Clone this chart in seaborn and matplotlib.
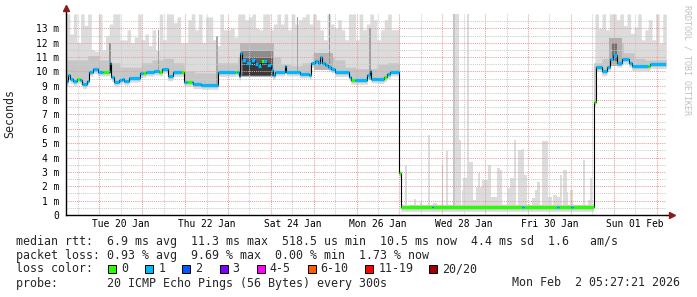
import numpy as np
import matplotlib
matplotlib.use("Agg")
import matplotlib.pyplot as plt
import seaborn as sns
from matplotlib.patches import Rectangle

# ---------------- data (time in days since Mon 19 Jan 00:00) ----------------
T0 = 0.2274   # Mon 19 Jan 05:27:21
T1 = 14.2274  # Mon 02 Feb 05:27:21

# median rtt (ms): step start, value, loss category index
med_start = [0.2274, 0.27, 0.32, 0.39, 0.47, 0.55, 0.60, 0.70, 0.75, 0.85,
             0.96, 1.08, 1.22, 1.24, 1.28, 1.34, 1.45, 1.53, 1.57, 1.69,
             1.95, 2.01, 2.08, 2.27, 2.39, 2.47, 2.59, 2.71, 2.90, 2.97,
             3.05, 3.15, 3.18, 3.38, 3.77, 4.17, 4.22, 4.26, 4.29, 4.33,
             4.42, 4.54, 4.62, 4.69, 4.77, 4.85, 4.92, 5.00, 5.04, 5.10,
             5.32, 5.36, 5.67, 5.90, 5.94, 6.02, 6.10, 6.14, 6.20, 6.26,
             6.33, 6.41, 6.49, 6.83, 6.87, 6.96, 7.25, 7.31, 7.34, 7.48,
             7.64, 7.70, 7.79, 8.00, 8.03, 8.76, 8.79, 10.855, 10.91, 11.67,
             11.725, 12.0, 12.045, 12.53, 12.58, 12.72, 12.84, 12.92, 12.99, 13.07,
             13.19, 13.35, 13.42, 13.80, 13.845]
med_value = [9.3, 9.75, 9.45, 9.3, 9.5, 9.4, 9.1, 9.35, 9.98, 10.15,
             9.98, 9.98, 9.98, 10.6, 9.6, 9.28, 9.4, 9.5, 9.35, 9.55,
             9.9, 9.9, 9.98, 10.05, 9.98, 10.2, 9.65, 9.95, 9.95, 9.28,
             9.28, 9.28, 9.1, 9.05, 9.95, 9.98, 9.98, 9.7, 11.3, 10.8,
             10.6, 10.8, 10.55, 10.4, 10.7, 10.75, 10.45, 10.1, 9.75, 9.98,
             10.4, 9.98, 9.85, 9.75, 10.6, 10.7, 10.6, 11.0, 10.6, 10.45,
             10.3, 10.2, 9.95, 9.6, 9.4, 9.4, 9.75, 10.0, 9.5, 9.45,
             9.6, 9.8, 9.98, 2.9, 0.55, 0.55, 0.55, 0.55, 0.55, 0.55,
             0.55, 0.55, 0.55, 7.9, 10.3, 10.0, 10.3, 10.85, 11.15, 10.6,
             10.85, 10.6, 10.35, 10.35, 10.5]
med_loss = [1, 1, 1, 1, 0, 1, 1, 1, 1, 1,
            1, 0, 1, 1, 1, 1, 1, 1, 1, 1,
            1, 0, 1, 1, 0, 1, 1, 1, 0, 1,
            0, 1, 1, 1, 1, 0, 1, 1, 1, 1,
            1, 1, 1, 1, 0, 1, 1, 1, 1, 1,
            1, 1, 1, 1, 1, 1, 1, 1, 1, 1,
            1, 1, 1, 1, 0, 1, 1, 1, 1, 1,
            0, 1, 1, 0, 0, 1, 0, 1, 0, 1,
            0, 1, 0, 0, 1, 1, 1, 1, 1, 1,
            1, 1, 1, 0, 1]

# smoke: highest ping per 2-hour bin (ms)
smoke_max = [14, 12.6, 14, 12.0, 14, 13.2, 14, 11.5, 11.4, 14,
             11.5, 12.5, 13.3, 14, 14, 12.2, 12.2, 12.9, 12.0, 12.4,
             14, 12.2, 12.6, 11.8, 12.9, 11.5, 14, 12.2, 14, 14,
             13.4, 13.8, 12.0, 12.0, 13.6, 14, 12.9, 14, 12.0, 13.8,
             13.8, 12.2, 11.8, 14, 12.9, 12.9, 13.0,
             12.4, 14, 14, 13.6, 13.8, 14, 13.0, 12.9, 14, 14,
             12.9, 13.3, 14, 13.3, 14, 12.9, 14, 13.3, 13.6, 13.8,
             14, 13.3, 14, 13.6, 12.9, 12.2, 14, 13.3, 13.0, 13.6,
             12.9, 12.2, 14, 14, 12.2, 14, 12.9, 13.3, 14, 13.6,
             12.2, 12.9, 13.6, 14, 12.9, 12.9, 13.0,
             0.6, 0.6, 0.6, 0.6, 0.6, 0.6, 0.6, 0.6, 0.6, 0.6,
             0.6, 0.6, 0.6, 0.6, 0.6, 0.6, 0.6, 0.6, 0.6, 0.6,
             0.6, 0.6, 0.6, 0.6, 0.6, 0.6, 0.6, 0.6, 0.6, 0.6,
             0.6, 0.6, 0.6, 0.6, 0.6, 0.6, 0.6, 0.6, 0.6, 0.6,
             0.6, 0.6, 0.6, 0.6, 0.6, 0.6, 0.6, 0.6, 0.6, 0.6,
             0.6, 0.6, 0.6, 0.6,
             14, 13.0, 14, 12.9, 14, 14, 13.6, 14, 13.2, 14,
             12.65, 13.1, 14, 12.2, 12.9, 13.6, 12.2, 14, 11.95, 14]

# smoke: denser (darker) part per 6-hour bin (ms)
mid_top = [10.8, 10.8, 11.1, 10.8, 10.6, 10.3, 10.3, 10.6, 10.8, 10.9,
           10.6, 10.0, 9.9, 9.9, 10.6, 10.6,
           11.0, 11.5, 11.5, 11.0, 10.5, 10.4, 10.6, 11.2, 11.0, 10.8,
           10.3, 10.2, 10.2, 10.5, 10.6, 10.5,
           0.7, 0.7, 0.7, 0.7, 0.7, 0.7, 0.7, 0.7, 0.7, 0.7,
           0.7, 0.7, 0.7, 0.7, 0.7, 0.7, 0.7, 10.6,
           10.9, 12.0, 11.3, 10.9, 10.8, 10.8]

# isolated smoke spikes while the rtt was low: start day, end day, top ms
spike_start = [8.132, 8.342, 8.482, 8.676, 8.793, 8.987, 9.088, 9.244, 9.400, 9.454,
               9.493, 9.571, 9.633, 9.711, 9.789, 9.843, 9.921, 10.076, 10.131, 10.271,
               10.349, 10.504, 10.582, 10.675, 10.777, 10.854, 10.909, 11.088, 11.166, 11.220,
               11.321, 11.477, 11.593, 11.671, 11.749, 11.827, 11.905, 11.982, 12.293, 12.410,
               12.45]
spike_end = [8.171, 8.388, 8.521, 8.715, 8.871, 9.026, 9.127, 9.400, 9.439, 9.493,
             9.571, 9.633, 9.711, 9.789, 9.921, 9.882, 10.076, 10.131, 10.271, 10.349,
             10.388, 10.582, 10.699, 10.722, 10.854, 10.909, 10.971, 11.166, 11.220, 11.282,
             11.477, 11.555, 11.671, 11.749, 11.788, 11.905, 11.944, 12.045, 12.332, 12.449,
             12.49]
spike_top = [3.48, 1.11, 0.93, 5.57, 0.81, 3.48, 4.48, 14.0, 5.22, 1.74,
             2.55, 14.0, 3.71, 1.04, 1.97, 2.9, 2.44, 3.48, 1.28, 3.25,
             3.13, 1.86, 2.55, 5.22, 4.52, 4.57, 2.79, 1.16, 1.74, 2.32,
             5.15, 1.28, 1.39, 1.28, 2.79, 3.13, 1.63, 1.74, 3.83, 1.04,
             2.6]

# dense smoke patches: (start day, end day, low ms, high ms, grey)
band_start = [4.29, 4.31, 4.33, 4.35, 6.00, 12.90, 12.95, 9.244, 8.987, 2.37, 3.72, 5.60, 6.36, 7.30, 1.23]
band_end = [5.08, 5.06, 5.04, 5.01, 6.45, 13.20, 13.08, 9.29, 9.01, 2.40, 3.76, 5.63, 6.39, 7.33, 1.26]
band_low = [9.6, 9.65, 9.7, 9.75, 10.1, 10.4, 10.7, 0.5, 0.5, 10.0, 9.1, 10.0, 10.3, 9.4, 10.0]
band_high = [12.0, 11.4, 10.95, 10.6, 11.3, 12.3, 12.0, 14.0, 3.48, 12.9, 12.5, 13.8, 14.0, 13.0, 12.0]
band_grey = ['#b8b8b8', '#8c8c8c', '#5c5c5c', '#383838', '#b4b4b4', '#b0b0b0', '#707070',
             '#c6c6c6', '#c6c6c6', '#a0a0a0', '#a8a8a8', '#a0a0a0', '#909090', '#a0a0a0', '#909090']

day_label_pos = [1.5, 3.5, 5.5, 7.5, 9.5, 11.5, 13.5]
day_labels = ['Tue 20 Jan', 'Thu 22 Jan', 'Sat 24 Jan', 'Mon 26 Jan',
              'Wed 28 Jan', 'Fri 30 Jan', 'Sun 01 Feb']
ytick_vals = list(range(0, 14))
ytick_labels = ['0'] + ['%d m' % v for v in range(1, 14)]

loss_labels = ['0', '1', '2', '3', '4-5', '6-10', '11-19', '20/20']
loss_colors = ['#26ff00', '#00b8ff', '#0059ff', '#7e00ff', '#ff00ff',
               '#ff5e00', '#ff0000', '#a10000']

legend_lines = [
    'median rtt:  6.9 ms avg  11.3 ms max  518.5 us min  10.5 ms now  4.4 ms sd  1.6   am/s',
    'packet loss: 0.93 % avg  9.69 % max  0.00 % min  1.73 % now',
    'loss color:',
    'probe:       20 ICMP Echo Pings (56 Bytes) every 300s',
]
stamp = 'Mon Feb  2 05:27:21 2026'

# ---------------- drawing ----------------
sns.set_theme(style='white')
plt.rcParams['font.family'] = ['DejaVu Sans Mono']

W, H = 697, 297
fig = plt.figure(figsize=(W / 100, H / 100), dpi=100)
fig.patch.set_facecolor('white')
ax_left, ax_right, ax_top, ax_bottom = 66.3, 666.3, 13.5, 215
ax = fig.add_axes([ax_left / W, 1 - ax_bottom / H, (ax_right - ax_left) / W, (ax_bottom - ax_top) / H])
ax.set_facecolor('white')
YMAX = (ax_bottom - ax_top) / 14.36
ax.set_xlim(T0, T1)
ax.set_ylim(0, YMAX)

tt = np.linspace(T0, T1, 8001)
ms = np.array(med_start)
mv = np.array(med_value)
idx = np.searchsorted(ms, tt, side='right') - 1
med_f = mv[idx]
smax_f = np.array(smoke_max)[np.clip(((tt - T0) * 12).astype(int), 0, len(smoke_max) - 1)]
mid_f = np.array(mid_top)[np.clip(((tt - T0) * 4).astype(int), 0, len(mid_top) - 1)]

# keep the smoke attached to the median where a bin straddles a large jump
near = np.abs(smax_f - med_f) < 6.5
light_top = np.where(near | (smax_f > med_f), np.maximum(smax_f, med_f + 0.2), med_f + 0.2)
light_top = np.where((med_f < 3) & (smax_f > 3), med_f + 0.2, light_top)
mid_upper = np.where(np.abs(mid_f - med_f) < 3, np.maximum(mid_f, med_f), med_f)

ax.fill_between(tt, med_f - 0.3, np.minimum(light_top, YMAX), color='#dcdcdc', lw=0, zorder=1)
ax.fill_between(tt, med_f - 0.15, mid_upper, color='#c6c6c6', lw=0, zorder=1.2)
for d0, d1, top in zip(spike_start, spike_end, spike_top):
    ax.fill_between([d0, d1], [0.4, 0.4], [min(top, YMAX)] * 2, color='#dcdcdc', lw=0, zorder=1)
for d0, d1, lo, hi, g in zip(band_start, band_end, band_low, band_high, band_grey):
    ax.fill_between([d0, d1], [lo, lo], [min(hi, YMAX)] * 2, color=g, lw=0, zorder=1.5)

# median: thin black step line, then loss coloured segments
sns.lineplot(x=list(med_start) + [T1], y=list(med_value) + [med_value[-1]],
             drawstyle='steps-post', color='black', lw=0.8, estimator=None,
             sort=False, ax=ax, zorder=3)
ends = list(med_start[1:]) + [T1]
ax.hlines(med_value, med_start, ends, colors=[loss_colors[l] for l in med_loss],
          lw=2.3, zorder=4)

# grid / ticks
ax.set_axisbelow(False)
ax.set_xticks(np.arange(1, 15))
ax.set_xticklabels([''] * 14)
noons = np.arange(0.5, 14.0, 1.0)
ax.set_xticks(noons, minor=True)
ax.set_xticklabels([day_labels[day_label_pos.index(n)] if n in day_label_pos else '' for n in noons],
                   minor=True, fontsize=6.9)
ax.set_yticks(ytick_vals)
ax.set_yticklabels(ytick_labels, fontsize=6.9)
ax.set_yticks(np.arange(0.5, 14.0, 1.0), minor=True)
ax.grid(which='major', color='#e8a0a0', linestyle=(0, (1, 1)), linewidth=0.75)
ax.grid(which='minor', color='#cccccc', linestyle=(0, (1, 1)), linewidth=0.75)
ax.tick_params(axis='x', which='both', length=2, direction='in', pad=3, colors='black')
ax.tick_params(axis='y', which='both', length=2, direction='in', pad=5, colors='black')
for s in ['top', 'right']:
    ax.spines[s].set_visible(False)
for s in ['left', 'bottom']:
    ax.spines[s].set_color('black')
    ax.spines[s].set_linewidth(1.0)
    ax.spines[s].set_zorder(5)

# axis arrows
ax.plot([0, 0], [1, 1.012], transform=ax.transAxes, color='black', lw=1.0, clip_on=False, zorder=5)
ax.plot([0], [1.025], transform=ax.transAxes, marker='^', color='#8b1a1a', markersize=4.5,
        clip_on=False, zorder=6)
ax.plot([1, 1.005], [0, 0], transform=ax.transAxes, color='black', lw=1.0, clip_on=False, zorder=5)
ax.plot([1.009], [0], transform=ax.transAxes, marker='>', color='#8b1a1a', markersize=4.5,
        clip_on=False, zorder=6)

# texts
fig.text(10 / W, 1 - 114 / H, 'Seconds', rotation=90, ha='center', va='center', fontsize=8.4)
fig.text(687 / W, 1 - 5 / H, 'RRDTOOL / TOBI OETIKER', rotation=270, ha='center', va='top',
         fontsize=6, color='#c0c0c0')
for i, line in enumerate(legend_lines):
    fig.text(16 / W, 1 - (241 + 14 * i) / H, line, ha='left', va='center', fontsize=8.4)
fig.text(680 / W, 1 - 283 / H, stamp, ha='right', va='center', fontsize=8.4)

box_x = [108, 145.3, 182.2, 219.6, 256.9, 307.6, 365.3, 428.9]
for bx, lab, col in zip(box_x, loss_labels, loss_colors):
    fig.add_artist(Rectangle((bx / W, 1 - 273 / H), 8 / W, 8 / H, transform=fig.transFigure,
                             facecolor=col, edgecolor='black', lw=0.7))
    fig.text((bx + 13) / W, 1 - 269 / H, lab, ha='left', va='center', fontsize=8.4)

fig.savefig('out.png', dpi=100, facecolor='white')
